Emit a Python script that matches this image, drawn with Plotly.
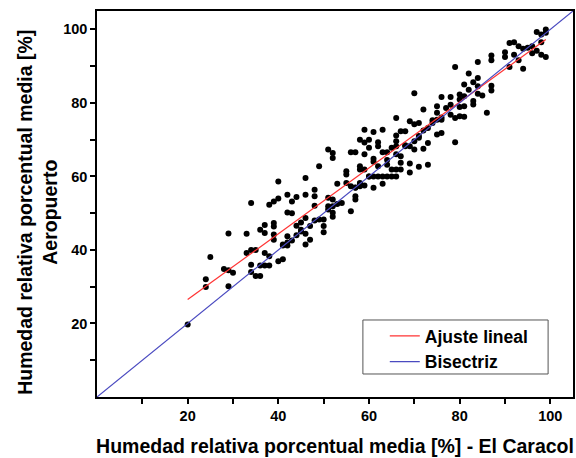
import numpy as np
import plotly.graph_objects as go

# Humedad relativa media mensual: El Caracol (x) vs Aeropuerto (y), en %
caracol = [
    20, 24, 24, 25, 28, 29, 29, 30, 29, 33, 33, 34, 34, 34, 34, 35, 36, 35, 36, 37,
    37, 36, 37, 38, 37, 38, 38, 39, 39, 39, 39, 39, 40, 40, 40, 41, 41, 42, 42, 42,
    42, 43, 43, 43, 44, 44, 45, 45, 46, 46, 46, 46, 46, 47, 47, 48, 48, 48, 49, 49,
    50, 50, 50, 51, 52, 52, 51, 52, 52, 52, 52, 51, 53, 54, 55, 55, 55, 56, 57, 56,
    56, 57, 57, 57, 58, 58, 58, 58, 58, 59, 59, 59, 59, 60, 60, 60, 61, 61, 61, 61,
    61, 62, 62, 62, 62, 63, 63, 63, 63, 64, 64, 64, 65, 65, 65, 66, 66, 66, 66, 66,
    66, 67, 67, 67, 67, 68, 68, 69, 69, 69, 69, 70, 70, 70, 70, 71, 71, 71, 72, 72,
    73, 73, 73, 74, 75, 75, 75, 75, 76, 76, 76, 77, 78, 78, 78, 79, 79, 79, 80, 80,
    80, 80, 81, 81, 81, 81, 82, 82, 83, 83, 83, 84, 84, 84, 84, 85, 86, 87, 87, 87,
    87, 90, 90, 91, 91, 92, 92, 93, 93, 94, 94, 95, 96, 96, 97, 97, 98, 98, 99, 99,
    99, 98, 41, 42, 44, 45, 48, 51, 53, 57, 58, 60, 66, 71, 74, 76, 59, 64, 68, 72,
]
aeropuerto = [
    19.7, 32.0, 29.9, 38.1, 34.8, 44.5, 30.1, 33.8, 34.5, 44.4, 39.2, 52.8, 36.0, 34.0, 40.0, 32.9, 32.9, 40.0, 45.5, 44.6,
    46.8, 35.8, 35.8, 35.8, 39.2, 38.3, 52.3, 53.2, 47.3, 46.4, 42.8, 44.2, 58.6, 54.0, 36.9, 37.5, 41.2, 55.0, 50.2, 43.7,
    41.2, 50.0, 53.2, 42.6, 54.4, 46.6, 47.5, 45.0, 59.6, 55.0, 48.7, 44.4, 41.5, 46.5, 42.8, 56.4, 54.6, 52.0, 62.8, 48.3,
    48.3, 46.5, 44.8, 67.3, 66.4, 65.0, 54.2, 53.7, 51.9, 50.1, 49.0, 51.9, 58.0, 52.8, 61.4, 60.5, 58.2, 66.6, 66.6, 57.3,
    50.5, 54.6, 53.7, 56.9, 58.2, 57.3, 62.8, 61.9, 70.0, 72.7, 66.0, 69.2, 61.9, 70.0, 67.8, 60.0, 72.1, 64.8, 64.0, 56.9,
    60.0, 69.3, 68.2, 62.8, 60.0, 72.7, 66.6, 58.0, 60.0, 66.6, 60.0, 63.2, 67.8, 60.0, 61.9, 75.9, 71.1, 69.6, 68.2, 61.9,
    60.0, 72.3, 65.5, 63.7, 61.9, 72.3, 68.2, 75.0, 63.5, 61.1, 68.2, 82.6, 74.2, 67.3, 69.6, 74.5, 70.5, 62.6, 78.2, 67.5,
    73.2, 69.1, 63.2, 75.3, 79.1, 77.3, 75.4, 71.4, 81.6, 75.4, 71.8, 78.6, 81.6, 79.5, 76.8, 89.8, 69.3, 75.9, 82.3, 80.9,
    78.9, 76.4, 85.0, 81.8, 79.1, 76.2, 88.0, 83.6, 85.6, 80.5, 79.6, 91.1, 86.8, 84.5, 82.5, 82.0, 77.3, 92.9, 91.6, 84.7,
    83.4, 93.8, 92.5, 96.3, 89.8, 96.5, 93.1, 95.4, 91.6, 94.7, 89.3, 95.0, 93.5, 95.4, 99.3, 94.2, 96.5, 98.6, 100.0, 99.1,
    92.5, 93.1, 41.5, 42.0, 44.0, 45.5, 48.0, 51.0, 52.5, 57.0, 58.0, 60.0, 66.0, 71.0, 74.5, 76.0, 57.5, 64.5, 68.5, 72.5,
]

x = np.array(caracol, dtype=float)
y = np.array(aeropuerto, dtype=float)

# Recta de regresión por mínimos cuadrados, trazada entre los extremos de x
slope, intercept = np.polyfit(x, y, 1)
fit_x = np.array([x.min(), x.max()])
fit_y = slope * fit_x + intercept

axis_range = [0, 105]
tick_vals = [10, 20, 30, 40, 50, 60, 70, 80, 90, 100]
tick_text = ["", "20", "", "40", "", "60", "", "80", "", "100"]

font_family = "Arial, Liberation Sans, sans-serif"
title_font = dict(family=font_family, size=19.5, color="black", weight="bold")

fig = go.Figure()
fig.add_trace(go.Scatter(
    x=x, y=y, mode="markers",
    marker=dict(color="black", size=6),
    showlegend=False, hoverinfo="skip",
))
fig.add_trace(go.Scatter(
    x=fit_x, y=fit_y, mode="lines",
    line=dict(color="#ff3333", width=1.2),
    name="Ajuste lineal",
))
fig.add_trace(go.Scatter(
    x=axis_range, y=axis_range, mode="lines",
    line=dict(color="#4a4ac0", width=1.2),
    name="Bisectriz",
))

axis_common = dict(
    range=axis_range,
    tickmode="array",
    tickvals=tick_vals,
    ticktext=tick_text,
    ticks="outside",
    ticklen=5,
    tickwidth=1.5,
    tickcolor="black",
    showline=True,
    linecolor="black",
    linewidth=1.5,
    mirror=True,
    showgrid=False,
    zeroline=False,
    tickfont=dict(family=font_family, size=14.5, color="black", weight="bold"),
)

fig.update_layout(
    width=576,
    height=458,
    margin=dict(l=97, r=1, t=11, b=61),
    paper_bgcolor="white",
    plot_bgcolor="white",
    xaxis=dict(
        **axis_common,
        title=dict(
            text="Humedad relativa porcentual media [%] - El Caracol",
            font=title_font,
            standoff=16,
        ),
    ),
    yaxis=dict(**axis_common),
    annotations=[dict(
        text="Humedad relativa porcentual media [%]<br>Aeropuerto",
        xref="paper", yref="paper",
        x=-0.1266, y=0.479,
        xanchor="center", yanchor="middle",
        textangle=-90,
        showarrow=False,
        font=title_font,
    )],
    legend=dict(
        x=0.6046, y=0.2047, xanchor="left", yanchor="top",
        bgcolor="rgba(0,0,0,0)",
        borderwidth=0,
        font=dict(family=font_family, size=17.5, color="black", weight="bold"),
        tracegroupgap=0,
    ),
    # marco de la leyenda
    shapes=[dict(
        type="rect", xref="paper", yref="paper",
        x0=0.5586, x1=0.9477, y0=0.0596, y1=0.1995,
        line=dict(color="#555555", width=1),
        fillcolor="rgba(0,0,0,0)",
        layer="above",
    )],
)

fig.write_html("out.html")
